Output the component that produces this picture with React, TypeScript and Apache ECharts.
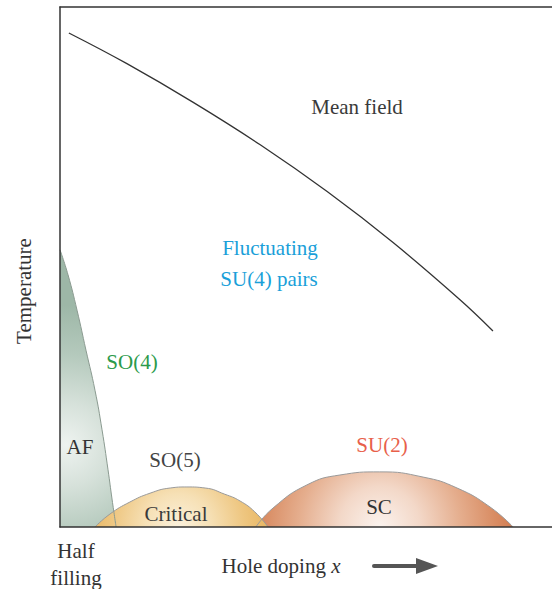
import React, { useEffect, useRef } from "react";
import * as echarts from "echarts";

// Mean-field crossover line (x: hole doping, 0..100 ; y: temperature, 0..100)
const meanFieldX = [1.8, 13.6, 27.0, 40.7, 54.3, 67.7, 81.3, 88.0];
const meanFieldY = [95.0, 89.1, 81.7, 73.5, 64.5, 54.7, 43.7, 37.7];

// Antiferromagnetic dome
const afX = [0, 1.63, 3.46, 5.28, 7.11, 8.54, 9.76, 10.6, 11.4];
const afY = [53.3, 48.5, 41.7, 34.0, 26.3, 18.7, 11.0, 5.2, 0];

// SO(5) critical dome
const critX = [7.11, 10.16, 14.2, 18.3, 22.4, 25.8, 29.5, 33.5, 36.6, 39.6, 42.3];
const critY = [0, 2.5, 4.8, 6.5, 7.5, 7.7, 7.5, 6.3, 5.0, 2.9, 0];

// Superconducting dome
const scX = [39.8, 43.3, 50.2, 56.9, 65.0, 73.8, 80.7, 87.4, 92.1];
const scY = [0, 3.65, 8.1, 10.0, 10.6, 9.6, 7.5, 3.85, 0];

const zip = (xs: number[], ys: number[]) => xs.map((x, i) => [x, ys[i]]);

const FONT = "Liberation Serif";

export default function App() {
  const ref = useRef<HTMLDivElement>(null);
  useEffect(() => {
    document.body.style.margin = "0";
    const chart = echarts.init(ref.current!, undefined, { renderer: "svg" });
    const txt = (text: string, x: number, y: number, fill: string) => ({
      type: "text",
      x,
      y,
      z: 100,
      style: {
        text,
        fill,
        fontFamily: FONT,
        fontSize: 21,
        align: "center",
        verticalAlign: "middle",
      },
    });
    const axisBase = {
      type: "value",
      min: 0,
      max: 100,
      z: 10,
      axisLine: { show: true, lineStyle: { color: "#333", width: 1.5 } },
      axisTick: { show: false },
      axisLabel: { show: false },
      splitLine: { show: false },
    };
    chart.setOption({
      animation: false,
      backgroundColor: "#ffffff",
      grid: { left: 60, right: 0, top: 7, bottom: 62, containLabel: false },
      xAxis: [{ ...axisBase }, { ...axisBase, position: "top" }],
      yAxis: { ...axisBase },
    });

    // radial gradients placed through the chart's own scales
    const grad = (cx: number, cy: number, r: number, stops: [number, string][]) => {
      const [px, py] = chart.convertToPixel({ gridIndex: 0 }, [cx, cy]) as number[];
      return new echarts.graphic.RadialGradient(
        px,
        py,
        r,
        stops.map(([offset, color]) => ({ offset, color })),
        true
      );
    };

    chart.setOption({
      series: [
        {
          type: "line",
          data: zip(scX, scY),
          smooth: 0.5,
          symbol: "none",
          lineStyle: { color: "#9a9a9a", width: 1 },
          areaStyle: {
            opacity: 1,
            color: grad(65, 0, 135, [
              [0, "#fbf3ee"],
              [0.3, "#f3d8c8"],
              [0.6, "#e5ae8e"],
              [0.85, "#d98d64"],
              [1, "#d27b50"],
            ]),
          },
        },
        {
          type: "line",
          data: zip(afX, afY),
          smooth: 0.5,
          symbol: "none",
          lineStyle: { color: "#8a9a90", width: 1 },
          areaStyle: {
            opacity: 1,
            color: grad(1.2, 15.8, 140, [
              [0, "#eef3f0"],
              [0.3, "#d6e1da"],
              [0.65, "#b4c9bc"],
              [1, "#9db7a7"],
            ]),
          },
        },
        {
          type: "line",
          data: zip(critX, critY),
          smooth: 0.5,
          symbol: "none",
          lineStyle: { color: "#9a9a9a", width: 1 },
          areaStyle: {
            opacity: 1,
            color: grad(24, 0, 95, [
              [0, "#fbf1dc"],
              [0.35, "#f6e0b5"],
              [0.7, "#eec680"],
              [1, "#e7b35d"],
            ]),
          },
        },
        {
          type: "line",
          data: zip(meanFieldX, meanFieldY),
          smooth: 0.4,
          symbol: "none",
          lineStyle: { color: "#333", width: 1.3 },
        },
      ],
      graphic: [
        txt("Mean field", 357, 107, "#3a3a3a"),
        txt("Fluctuating", 270, 248, "#1a9fd9"),
        txt("SU(4) pairs", 269, 279, "#1a9fd9"),
        txt("SO(4)", 132, 362, "#2b9a4b"),
        txt("AF", 80, 447, "#333"),
        txt("SO(5)", 175, 460, "#444"),
        txt("Critical", 176, 514, "#3a3a3a"),
        txt("SU(2)", 382, 445, "#e8604a"),
        txt("SC", 379, 507, "#333"),
        { ...txt("Temperature", 24, 291, "#333"), rotation: Math.PI / 2 },
        txt("Half", 76, 551, "#333"),
        txt("filling", 76, 578, "#333"),
        {
          type: "text",
          x: 281,
          y: 566,
          z: 100,
          style: {
            text: "{a|Hole doping }{b|x}",
            align: "center",
            verticalAlign: "middle",
            rich: {
              a: { fontFamily: FONT, fontSize: 21, fill: "#333" },
              b: { fontFamily: FONT, fontSize: 21, fontStyle: "italic", fill: "#333" },
            },
          },
        },
        {
          type: "line",
          z: 100,
          shape: { x1: 374, y1: 566, x2: 418, y2: 566 },
          style: { stroke: "#555", lineWidth: 4, lineCap: "round" },
        },
        {
          type: "polygon",
          z: 100,
          shape: { points: [[416, 558], [438, 566], [416, 574]] },
          style: { fill: "#555" },
        },
      ],
    });
    return () => chart.dispose();
  }, []);
  return <div ref={ref} style={{ width: 552, height: 589 }} />;
}
